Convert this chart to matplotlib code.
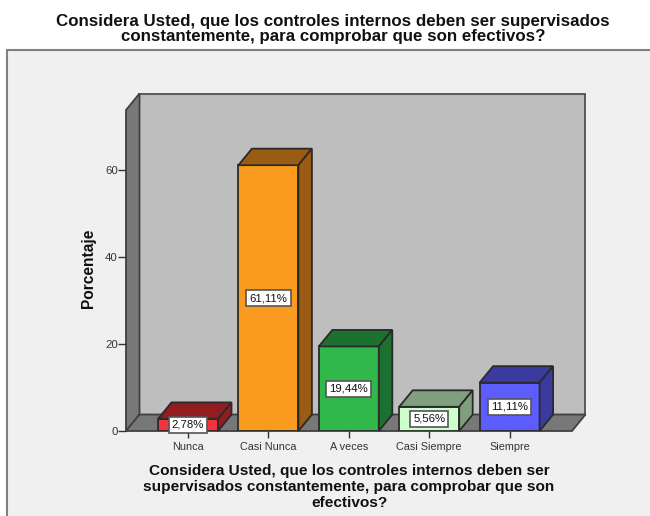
import matplotlib
matplotlib.use("Agg")
import matplotlib.pyplot as plt
from matplotlib.patches import Polygon, Rectangle

plt.rcParams['font.family'] = ['Liberation Sans', 'DejaVu Sans']

categorias = ["Nunca", "Casi Nunca", "A veces", "Casi Siempre", "Siempre"]
porcentajes = [2.78, 61.11, 19.44, 5.56, 11.11]
etiquetas = ["2,78%", "61,11%", "19,44%", "5,56%", "11,11%"]
frente = ["#f5333f", "#fa9a1e", "#30b84a", "#ccffcc", "#5c5cff"]
arriba = ["#921c20", "#9a5c12", "#1c7030", "#7f9f7f", "#3a3a9f"]
marcas_y = [0, 20, 40, 60]

titulo = "Considera Usted, que los controles internos deben ser supervisados\nconstantemente, para comprobar que son efectivos?"
titulo_x = "Considera Usted, que los controles internos deben ser\nsupervisados constantemente, para comprobar que son\nefectivos?"

W, H = 650, 516
fig = plt.figure(figsize=(W / 100, H / 100), dpi=100, facecolor="white")

# panel gris de fondo
fondo = fig.add_axes([0, 0, 1, 1])
fondo.set_xlim(0, W)
fondo.set_ylim(H, 0)
fondo.axis("off")
fondo.add_patch(Rectangle((7, 50), 660, 480, facecolor="#f0f0f0", edgecolor="#808080", lw=1.5))

# ejes: y=0 en pixel 431, 4.35 px por unidad, 80.4 px entre categorias
izq, der, abajo, tope = 126, 572, 431, 110
ax = fig.add_axes([izq / W, 1 - abajo / H, (der - izq) / W, (abajo - tope) / H])
ax.set_xlim((izq - 188) / 80.4, (der - 188) / 80.4)
ax.set_ylim(0, (abajo - tope) / 4.35)
ax.patch.set_alpha(0)
for s in ax.spines.values():
    s.set_visible(False)

x0, x1 = ax.get_xlim()
y1 = ax.get_ylim()[1]
dx = 13.5 / 80.4   # profundidad
dy = 16.5 / 4.35
borde = "#2a2a2a"

# paredes y piso
ax.add_patch(Polygon([(x0 + dx, dy), (x1 + dx, dy), (x1 + dx, y1 + dy), (x0 + dx, y1 + dy)],
                     facecolor="#bebebe", edgecolor="#505050", lw=1.3, clip_on=False, zorder=1))
ax.add_patch(Polygon([(x0, 0), (x0 + dx, dy), (x0 + dx, y1 + dy), (x0, y1)],
                     facecolor="#787878", edgecolor="#404040", lw=1.3, clip_on=False, zorder=1))
ax.add_patch(Polygon([(x0, 0), (x1, 0), (x1 + dx, dy), (x0 + dx, dy)],
                     facecolor="#787878", edgecolor="#404040", lw=1.3, clip_on=False, zorder=1))

# barras con su cara superior y lateral
ancho = 60 / 80.4
for i, v in enumerate(porcentajes):
    a, b = i - ancho / 2, i + ancho / 2
    ax.bar(i, v, ancho, color=frente[i], edgecolor=borde, lw=1.3, zorder=3)
    ax.add_patch(Polygon([(a, v), (b, v), (b + dx, v + dy), (a + dx, v + dy)],
                         facecolor=arriba[i], edgecolor=borde, lw=1.3, clip_on=False, zorder=3))
    ax.add_patch(Polygon([(b, 0), (b + dx, dy), (b + dx, v + dy), (b, v)],
                         facecolor=arriba[i], edgecolor=borde, lw=1.3, clip_on=False, zorder=3))
    ax.text(i, v / 2, etiquetas[i], ha="center", va="center", fontsize=8.2, color="#111111", zorder=5,
            bbox=dict(boxstyle="square,pad=0.28", facecolor="white", edgecolor="#555555", lw=1.2))

ax.set_xticks(range(len(categorias)))
ax.set_xticklabels(categorias, fontsize=7.8, color="#333333")
ax.set_yticks(marcas_y)
ax.tick_params(axis="x", length=5, width=1, color="#333333", pad=3)
ax.tick_params(axis="y", length=5.5, width=1, color="#333333", pad=0.5, labelsize=8.2, labelcolor="#333333")
ax.set_ylabel("Porcentaje", fontsize=11.2, fontweight="bold", color="#111111")
ax.yaxis.set_label_coords(-0.067, 0.507)

fondo.text(333, 29, titulo, ha="center", va="center", fontsize=12.2, fontweight="bold",
           color="#111111", linespacing=1.05)
fondo.text(349, 487, titulo_x, ha="center", va="center", fontsize=11.1, fontweight="bold",
           color="#111111", linespacing=1.17)

fig.savefig("out.png", dpi=100)
